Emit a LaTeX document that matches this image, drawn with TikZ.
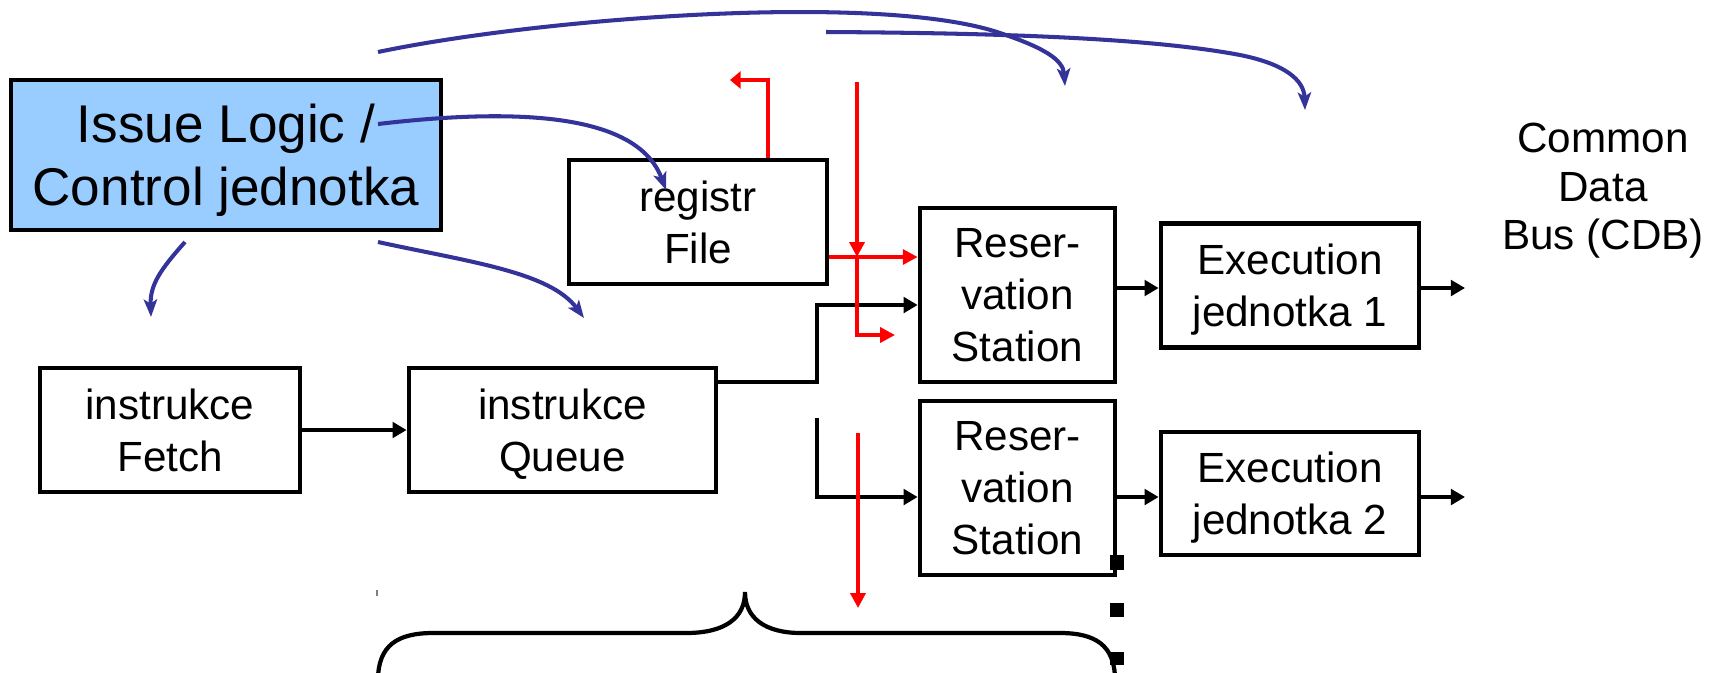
\documentclass[tikz,border=0pt]{standalone}
\usepackage{fontspec}
\setmainfont{Liberation Sans}
\usetikzlibrary{arrows.meta}
\definecolor{issuefill}{HTML}{99CCFF}
\definecolor{ctrlblue}{HTML}{333399}
\definecolor{sigred}{HTML}{FF0000}
\begin{document}
\begin{tikzpicture}[x=0.01cm,y=-0.01cm,
  unitbox/.style={draw=black, line width=1.3pt, fill=white, inner sep=0pt,
    align=center, font=\fontsize{12}{14.8}\selectfont, text depth=-1.1pt},
  datapath/.style={draw=black, line width=1.1pt,
    -{Triangle[length=4pt,width=4.4pt]}},
  tagline/.style={draw=sigred, line width=1pt,
    -{Triangle[length=4.2pt,width=4.2pt]}},
  ctrl/.style={draw=ctrlblue, line width=1.15pt,
    -{Stealth[length=5pt,width=3.8pt,inset=1.2pt]}},
  dotmark/.style={fill=black},
]
\useasboundingbox (0,0) rectangle (1719,672);

% functional units
\node[unitbox, fill=issuefill, minimum width=4.30cm, minimum height=1.50cm,
      font=\fontsize{15.1}{17.9}\selectfont, text depth=-1.4pt] (issue) at (226,155)
      {Issue Logic /\\Control jednotka};
\node[unitbox, minimum width=2.58cm, minimum height=1.24cm] (regfile) at (698,222) {registr\\File};
\node[unitbox, minimum width=2.60cm, minimum height=1.24cm] (fetch) at (170,430) {instrukce\\Fetch};
\node[unitbox, minimum width=3.07cm, minimum height=1.24cm] (queue) at (562.5,430) {instrukce\\Queue};
\node[unitbox, minimum width=1.95cm, minimum height=1.74cm] (rs1) at (1017.5,295) {Reser-\\vation\\Station};
\node[unitbox, minimum width=1.95cm, minimum height=1.74cm] (rs2) at (1017.5,488) {Reser-\\vation\\Station};
\node[unitbox, minimum width=2.58cm, minimum height=1.24cm] (ex1) at (1290,285.5) {Execution\\jednotka 1};
\node[unitbox, minimum width=2.58cm, minimum height=1.23cm] (ex2) at (1290,493.5) {Execution\\jednotka 2};
\node[align=center, inner sep=0pt, font=\fontsize{12}{13.8}\selectfont, text depth=0pt]
      (cdb) at (1603,186.5) {Common\\Data\\Bus (CDB)};

% helper points
\coordinate (qlevel) at (0,382);
\coordinate (qbend) at (817,305);
\coordinate (bstart) at (817,418);
\coordinate (blevel) at (817,497);
\coordinate (rs1lvl) at (0,288);
\coordinate (cdb1) at (1465,288);
\coordinate (cdb2) at (1465,497);

% data paths
\draw[datapath] (fetch) -- (queue);
\draw[datapath] (queue.east |- qlevel) -| (qbend) -- (rs1.west |- qbend);
\draw[datapath] (bstart) |- (rs2.west |- blevel);
\draw[datapath] (rs1.east |- rs1lvl) -- (ex1.west |- rs1lvl);
\draw[datapath] (rs2.east |- blevel) -- (ex2.west |- blevel);
\draw[datapath] (ex1.east |- cdb1) -- (cdb1);
\draw[datapath] (ex2.east |- cdb2) -- (cdb2);

% operand / tag lines
\coordinate (rftag) at (768,80);
\coordinate (rftagend) at (730,80);
\coordinate (busTop) at (857,82);
\coordinate (busX) at (857,257);
\coordinate (busTurn) at (857,335);
\coordinate (busEnd) at (895,335);
\coordinate (lowTop) at (858,433);
\coordinate (lowEnd) at (858,608);
\draw[tagline, -{Triangle[length=3pt,width=4.8pt]}] (regfile.north -| rftag) -- (rftag) -- (rftagend);
\draw[tagline] (busTop) -- (busX);
\draw[tagline] (busX) -- (busTurn) -- (busEnd);
\draw[tagline] (regfile.east |- busX) -- (rs1.west |- busX);
\draw[tagline] (lowTop) -- (lowEnd);

% control signals
\coordinate (c1s) at (378,124);  \coordinate (c1e) at (666,190);
\coordinate (c2s) at (185,242);  \coordinate (c2e) at (151,317);
\coordinate (c3s) at (378,242);  \coordinate (c3e) at (584,318);
\coordinate (c4s) at (378,52);   \coordinate (c4m) at (1000,33);  \coordinate (c4e) at (1065,86);
\coordinate (c5s) at (826,32);   \coordinate (c5m) at (1240,55);  \coordinate (c5e) at (1305,110);
\draw[ctrl] (c1s) .. controls (540,105) and (640,120) .. (c1e);
\draw[ctrl] (c2s) .. controls (160,270) and (150,285) .. (c2e);
\draw[ctrl] (c3s) .. controls (470,262) and (550,272) .. (c3e);
\draw[ctrl] (c4s) .. controls (540,18) and (880,-8) .. (c4m)
                  .. controls (1045,48) and (1063,60) .. (c4e);
\draw[ctrl] (c5s) .. controls (1000,33) and (1150,38) .. (c5m)
                  .. controls (1285,64) and (1304,80) .. (c5e);

% grouping brace under the stations
\draw[line width=1.2pt] (378,680) .. controls (378,645) and (398,633) .. (433,633)
  -- (686,633) .. controls (725,633) and (745,618) .. (745,592)
  .. controls (745,618) and (765,633) .. (801,633)
  -- (1060,633) .. controls (1095,633) and (1115,645) .. (1115,680);
\draw[gray, line width=0.5pt] (377,590) -- (377,596);

% vertical ellipsis
\fill[dotmark] (1110,555) rectangle (1124,570);
\fill[dotmark] (1110,603) rectangle (1124,617);
\fill[dotmark] (1110,652) rectangle (1124,665);
\end{tikzpicture}
\end{document}
